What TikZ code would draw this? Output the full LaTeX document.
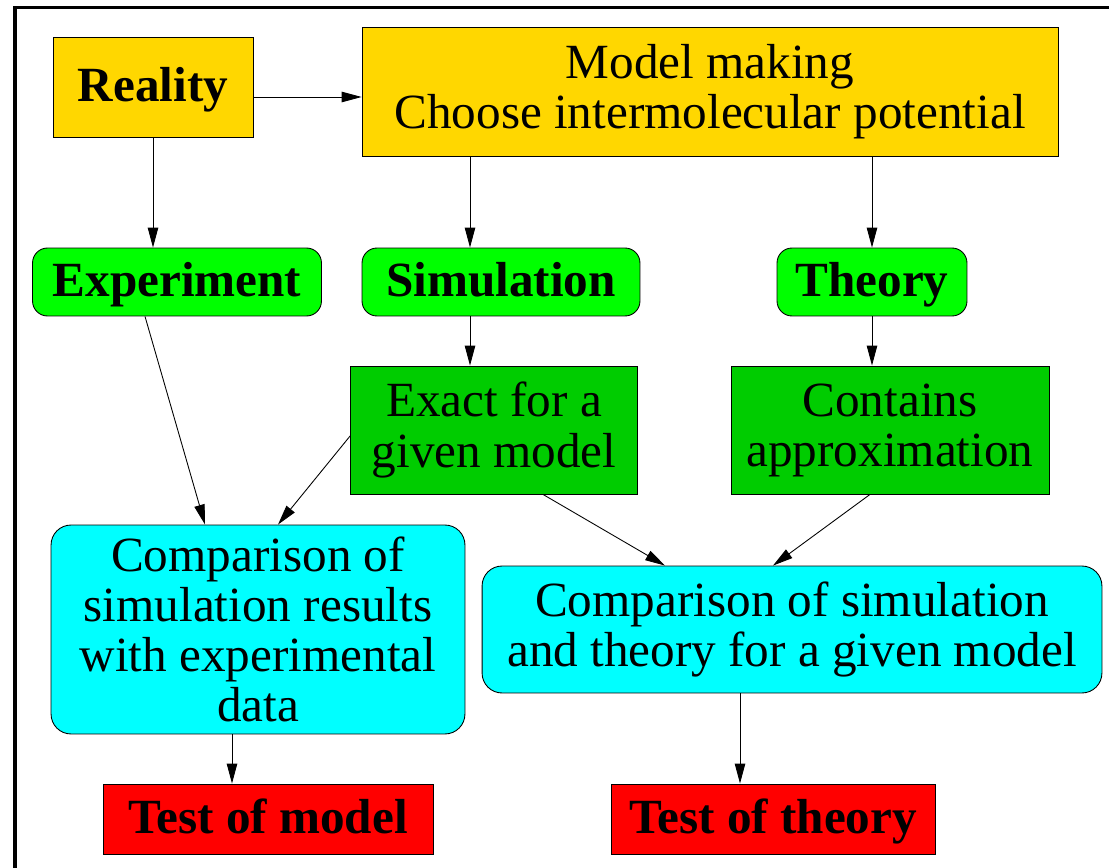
\documentclass[tikz,border=0pt]{standalone}
\usepackage{fontspec}
\setmainfont{Liberation Serif}
\usetikzlibrary{arrows.meta}
\definecolor{gold}{RGB}{255,215,0}
\definecolor{lgreen}{RGB}{0,255,0}
\definecolor{dgreen}{RGB}{0,204,0}
\definecolor{aqua}{RGB}{0,255,255}
\begin{document}
\begin{tikzpicture}[x=0.02cm, y=-0.02cm,
    box/.style={draw, line width=0.5pt, inner sep=0pt, align=center,
      font=\fontsize{28}{28.5}\selectfont},
    rbox/.style={box, rounded corners=0.3cm},
    bold/.style={font=\fontsize{28}{28.5}\selectfont\bfseries,
      text height=20pt, text depth=4pt},
    arr/.style={-{Triangle[length=0.4cm,width=0.21cm]}, line width=0.5pt}]
    \useasboundingbox (0,0) rectangle (1109,868);
    % Frame
    \draw[line width=2.2pt] (14.8,868) -- (14.8,7.5) -- (1109,7.5);
    % Model boxes
    \node[box, bold, fill=gold, minimum width=4cm, minimum height=2cm]
      (reality) at (153,87) {Reality};
    \node[box, fill=gold, minimum width=13.92cm, minimum height=2.58cm]
      (model) at (710,91.5) {Model making\\Choose intermolecular potential};
    % Methods
    \node[rbox, bold, fill=lgreen, minimum width=5.78cm, minimum height=1.36cm]
      (expt) at (177,282) {Experiment};
    \node[rbox, bold, fill=lgreen, minimum width=5.56cm, minimum height=1.36cm]
      (sim) at (501,282) {Simulation};
    \node[rbox, bold, fill=lgreen, minimum width=3.8cm, minimum height=1.36cm]
      (theory) at (872,282) {Theory};
    \node[box, fill=dgreen, minimum width=5.74cm, minimum height=2.56cm]
      (exact) at (494,430) {Exact for a\\given model};
    \node[box, fill=dgreen, minimum width=6.36cm, minimum height=2.56cm]
      (approx) at (890,430) {Contains\\approximation};
    % Comparisons
    \node[rbox, fill=aqua, minimum width=8.28cm, minimum height=4.18cm, rounded corners=0.4cm]
      (cmpa) at (258,629.5) {Comparison of\\simulation results\\with experimental\\data};
    \node[rbox, fill=aqua, minimum width=12.4cm, minimum height=2.54cm, rounded corners=0.4cm]
      (cmpb) at (792,629.5) {Comparison of simulation\\and theory for a given model};
    % Tests
    \node[box, bold, fill=red, minimum width=6.6cm, minimum height=1.4cm]
      (testm) at (268,819) {Test of model};
    \node[box, bold, fill=red, minimum width=6.48cm, minimum height=1.4cm]
      (testt) at (773,819) {Test of theory};
    % Arrows
    \draw[arr] ([yshift=-0.2cm]reality.east) -- ([yshift=-0.2cm]reality.east -| model.west);
    \draw[arr] (reality.south) -- (reality.south |- expt.north);
    \draw[arr] ([xshift=-0.62cm]sim.north |- model.south) -- ([xshift=-0.62cm]sim.north);
    \draw[arr] (theory.north |- model.south) -- (theory.north);
    \draw[arr] ([xshift=-0.62cm]sim.south) -- ([xshift=-0.62cm]sim.south |- exact.north);
    \draw[arr] (theory.south) -- (theory.south |- approx.north);
    \draw[arr] ([xshift=-0.64cm]expt.south) -- ([xshift=-1.06cm]cmpa.north);
    \draw[arr] ([yshift=-0.12cm]exact.west) -- ([xshift=0.4cm]cmpa.north);
    \draw[arr] ([xshift=0.98cm]exact.south) -- ([xshift=-2.54cm]cmpb.north);
    \draw[arr] ([xshift=-0.4cm]approx.south) -- ([xshift=-0.38cm]cmpb.north);
    \draw[arr] ([xshift=-0.52cm]cmpa.south) -- ([xshift=-0.52cm]cmpa.south |- testm.north);
    \draw[arr] ([xshift=-1.04cm]cmpb.south) -- ([xshift=-1.04cm]cmpb.south |- testt.north);
\end{tikzpicture}
\end{document}
